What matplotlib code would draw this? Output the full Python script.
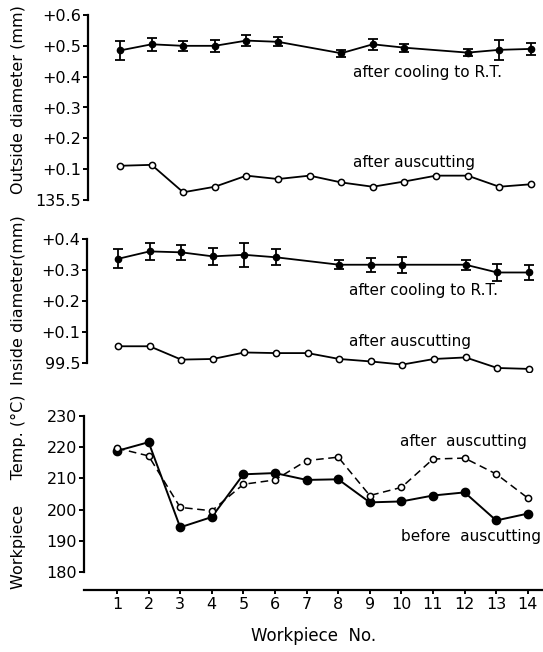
import matplotlib
matplotlib.use("Agg")
import matplotlib.pyplot as plt
import numpy as np

plt.rcParams['font.family'] = ['DejaVu Sans']

workpiece = np.arange(1, 15)

# outside diameter (offset from 135.5 mm)
od_cool_x = [1, 2, 3, 4, 5, 6, 8, 9, 10, 12, 13, 14]
od_cool = [0.485, 0.505, 0.50, 0.50, 0.517, 0.513, 0.476, 0.505, 0.494, 0.478, 0.487, 0.49]
od_cool_err = [0.030, 0.022, 0.017, 0.019, 0.019, 0.015, 0.012, 0.017, 0.013, 0.011, 0.032, 0.020]
od_ausc = [0.111, 0.114, 0.025, 0.043, 0.079, 0.068, 0.079, 0.057, 0.043, 0.060, 0.079, 0.079, 0.043, 0.051]

# inside diameter (offset from 99.5 mm)
id_cool_x = [1, 2, 3, 4, 5, 6, 8, 9, 10, 12, 13, 14]
id_cool = [0.336, 0.36, 0.357, 0.344, 0.349, 0.341, 0.317, 0.317, 0.317, 0.317, 0.292, 0.292]
id_cool_err = [0.031, 0.028, 0.025, 0.028, 0.038, 0.026, 0.015, 0.022, 0.026, 0.016, 0.028, 0.023]
id_ausc = [0.054, 0.054, 0.011, 0.013, 0.034, 0.032, 0.032, 0.013, 0.005, -0.005, 0.013, 0.018, -0.016, -0.019]

# workpiece temperature
t_before = [218.8, 221.6, 194.3, 197.6, 211.3, 211.7, 209.5, 209.7, 202.3, 202.6, 204.5, 205.5, 196.5, 198.7]
t_after = [219.7, 217.2, 200.7, 199.6, 208.1, 209.5, 215.7, 216.8, 204.5, 207.1, 216.2, 216.5, 211.4, 203.7]

W, H = 543, 652
fig = plt.figure(figsize=(W / 100, H / 100), dpi=100)
px_per_unit = 31.6

def box(l, t, r, b):
    return [l / W, 1 - b / H, (r - l) / W, (b - t) / H]

tick_fs = 11.5
lab_fs = 11.5
note_fs = 11

def style(ax, left_px, first_px):
    for s in ['top', 'right']:
        ax.spines[s].set_visible(False)
    ax.spines['left'].set_linewidth(1.6)
    ax.tick_params(axis='y', direction='out', length=3.5, width=1.4, labelsize=tick_fs, pad=1.5)
    x0 = 1 - (first_px - left_px) / px_per_unit
    ax.set_xlim(x0, x0 + (W - left_px) / px_per_unit)

def ylabel(ax, text, ypx):
    ax.set_ylabel(text, fontsize=lab_fs)
    ax.yaxis.set_label_coords(26 / W, 1 - ypx / H, transform=fig.transFigure)

# top panel
ax1 = fig.add_axes(box(88, 15, W, 200))
style(ax1, 88, 120)
ax1.spines['bottom'].set_visible(False)
ax1.set_xticks([])
ax1.set_ylim(0, 0.6)
ax1.spines['left'].set_bounds(0, 0.6)
ax1.set_yticks([0, 0.1, 0.2, 0.3, 0.4, 0.5, 0.6])
ax1.set_yticklabels(['135.5', '+0.1', '+0.2', '+0.3', '+0.4', '+0.5', '+0.6'])
ax1.errorbar(od_cool_x, od_cool, yerr=od_cool_err, color='black', lw=1.3, marker='o',
             ms=4.5, capsize=3.5, capthick=1.3, elinewidth=1.3)
ax1.plot(workpiece, od_ausc, color='black', lw=1.3, marker='o', ms=4.5, mfc='white', mew=1.1)
ax1.text(8.37, 0.412, 'after cooling to R.T.', fontsize=note_fs, va='center')
ax1.text(8.37, 0.123, 'after auscutting', fontsize=note_fs, va='center')
ylabel(ax1, 'Outside diameter (mm)', 100)

# middle panel
ax2 = fig.add_axes(box(87, 239, W, 372))
style(ax2, 87, 118)
ax2.spines['bottom'].set_visible(False)
ax2.set_xticks([])
ax2.set_ylim(-0.029, 0.4)
ax2.spines['left'].set_bounds(0, 0.4)
ax2.set_yticks([0, 0.1, 0.2, 0.3, 0.4])
ax2.set_yticklabels(['99.5', '+0.1', '+0.2', '+0.3', '+0.4'])
ax2.errorbar(id_cool_x, id_cool, yerr=id_cool_err, color='black', lw=1.3, marker='o',
             ms=4.5, capsize=3.5, capthick=1.3, elinewidth=1.3)
ax2.plot(workpiece, id_ausc, color='black', lw=1.3, marker='o', ms=4.5, mfc='white', mew=1.1)
ax2.text(8.3, 0.235, 'after cooling to R.T.', fontsize=note_fs, va='center')
ax2.text(8.3, 0.068, 'after auscutting', fontsize=note_fs, va='center')
ylabel(ax2, 'Inside diameter(mm)', 300)

# bottom panel
ax3 = fig.add_axes(box(84, 416, W, 590))
style(ax3, 84, 117)
ax3.set_ylim(174.2, 230)
ax3.spines['left'].set_bounds(180, 230)
ax3.set_yticks([180, 190, 200, 210, 220, 230])
ax3.spines['bottom'].set_linewidth(1.6)
ax3.set_xticks(workpiece)
ax3.tick_params(axis='x', direction='out', length=3, width=1.4, labelsize=tick_fs, pad=2)
ax3.plot(workpiece, t_before, color='black', lw=1.4, marker='o', ms=6)
ax3.plot(workpiece, t_after, color='black', lw=1.1, ls=(0, (5, 3)), marker='o', ms=4.5,
         mfc='white', mew=1.1)
ax3.text(9.96, 221.7, 'after  auscutting', fontsize=note_fs, va='center')
ax3.text(9.99, 191.5, 'before  auscutting', fontsize=note_fs, va='center')
ylabel(ax3, 'Workpiece     Temp. (°C)', 492)
ax3.set_xlabel('Workpiece  No.', fontsize=12, labelpad=11)

fig.savefig('out.png', dpi=100)
